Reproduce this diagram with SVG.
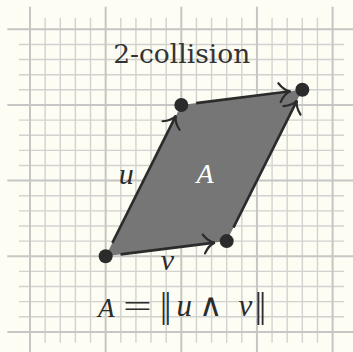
<svg xmlns="http://www.w3.org/2000/svg" width="353" height="352" viewBox="0 0 353 352">
<defs>
<style>
.bg{fill:#fdfdf4}
.minor{stroke:#d2d2d0;stroke-width:1.4;fill:none}
.major{stroke:#c6c6c4;stroke-width:2;fill:none}
.edge{stroke:#2b2b2b;stroke-width:2.6;fill:none;marker-end:url(#to)}
.dot{fill:#2b2b2b}
.area{fill:#767676}
.title{font-family:"DejaVu Serif",serif;font-size:26.5px;fill:#333;text-anchor:middle}
.math{font-family:"Liberation Serif","DejaVu Serif",serif;font-style:italic;font-size:30px;fill:#2b2b2b;text-anchor:middle}
.bars{font-family:"Liberation Serif",serif;font-style:normal;font-size:35.5px;letter-spacing:-2.8px;fill:#2b2b2b}
</style>
<marker id="to" markerUnits="userSpaceOnUse" orient="auto" refX="0" refY="0" markerWidth="30" markerHeight="30" overflow="visible">
<path d="M-11,-9.5 C-8,-4.5 -4,-1 0,0 C-4,1 -8,4.5 -11,9.5" fill="none" stroke="#2b2b2b" stroke-width="2.2" stroke-linecap="round"/>
</marker>
</defs>
<rect class="bg" x="0" y="0" width="353" height="352"/>
<g id="grid">
<path class="minor" d="M45.13 18V342.7M60.26 18V342.7M75.39 18V342.7M90.52 18V342.7M120.78 18V342.7M135.91 18V342.7M151.04 18V342.7M166.17 18V342.7M196.43 18V342.7M211.56 18V342.7M226.69 18V342.7M241.82 18V342.7M272.08 18V342.7M287.21 18V342.7M302.34 18V342.7M317.47 18V342.7"/>
<path class="minor" d="M19 44.43H344M19 59.56H344M19 74.69H344M19 89.82H344M19 120.08H344M19 135.21H344M19 150.34H344M19 165.47H344M19 195.73H344M19 210.86H344M19 225.99H344M19 241.12H344M19 271.38H344M19 286.51H344M19 301.64H344M19 316.77H344"/>
<path class="major" d="M30 6.7V352M105.65 6.7V352M181.3 6.7V352M256.95 6.7V352M332.6 6.7V352"/>
<path class="major" d="M7.3 29.3H353M7.3 104.95H353M7.3 180.6H353M7.3 256.25H353M7.3 331.9H353"/>
</g>
<g id="parallelogram">
<polygon class="area" points="105.65,256.25 226.69,241.12 302.34,89.82 181.3,104.95"/>
</g>
<g id="connectors">
<line id="edge-u" class="edge" x1="112.36" y1="242.83" x2="175.93" y2="115.68"/>
<line id="edge-v" class="edge" x1="120.53" y1="254.39" x2="214.78" y2="242.61"/>
<line id="edge-top" class="edge" x1="196.18" y1="103.09" x2="290.43" y2="91.31"/>
<line id="edge-right" class="edge" x1="233.4" y1="227.7" x2="296.97" y2="100.55"/>
</g>
<g id="node-o"><circle class="dot" cx="105.65" cy="256.25" r="7"/></g>
<g id="node-u"><circle class="dot" cx="181.3" cy="104.95" r="7"/></g>
<g id="node-v"><circle class="dot" cx="226.69" cy="241.12" r="7"/></g>
<g id="node-uv"><circle class="dot" cx="302.34" cy="89.82" r="7"/></g>
<g id="labels">
<text class="title" x="181.8" y="62.7">2-collision</text>
<text class="math" x="126.3" y="184">u</text>
<text class="math" x="205" y="183.3" style="fill:#ffffff;font-size:28px">A</text>
<text class="math" x="167.5" y="270">v</text>
<text class="math" x="106.3" y="316.5" style="font-size:27px">A</text>
<text class="math" x="137.5" y="316.5" style="font-style:normal;font-size:32px" textLength="28.8" lengthAdjust="spacingAndGlyphs">=</text>
<text class="bars" x="160" y="316.5">||</text>
<text class="math" x="184.2" y="315.5" style="font-size:31px">u</text>
<text class="math" x="210.8" y="316" style="font-family:'DejaVu Sans',sans-serif;font-style:normal;font-size:32px">∧</text>
<text class="math" x="245.3" y="315.5" style="font-size:31px">v</text>
<text class="bars" x="254.65" y="316.5">||</text>
</g>
</svg>
